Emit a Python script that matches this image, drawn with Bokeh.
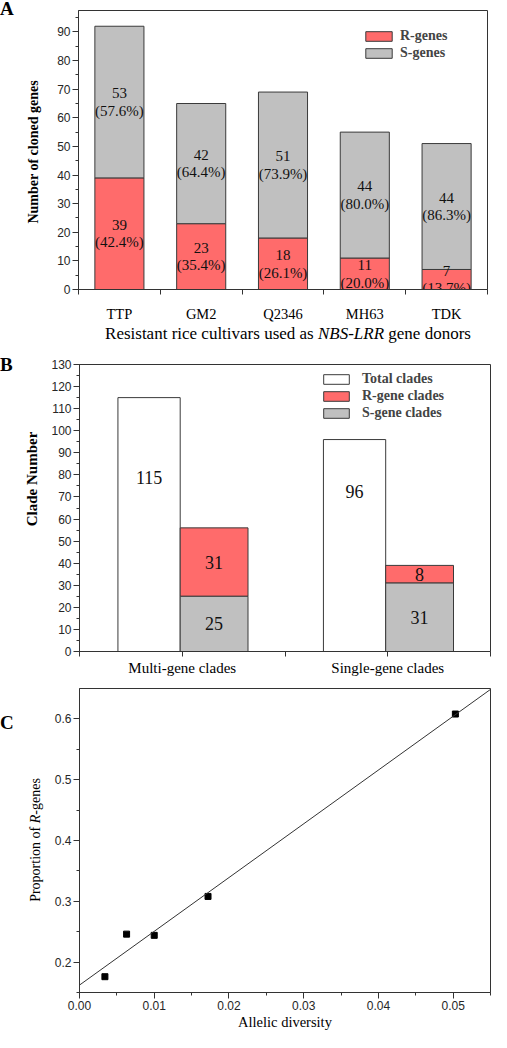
import numpy as np
from bokeh.plotting import figure
from bokeh.models import (Range1d, FixedTicker, SingleIntervalTicker, Legend,
                          LegendItem, ColumnDataSource, PrintfTickFormatter, Div)
from bokeh.layouts import column, row
from bokeh.embed import file_html
from bokeh.resources import INLINE
from bokeh.core.properties import value

# ---------------- data ----------------
cultivars = ["TTP", "GM2", "Q2346", "MH63", "TDK"]
r_genes = [39, 23, 18, 11, 7]
s_genes = [53, 42, 51, 44, 44]
r_pct = ["42.4", "35.4", "26.1", "20.0", "13.7"]
s_pct = ["57.6", "64.4", "73.9", "80.0", "86.3"]

clade_groups = ["Multi-gene clades", "Single-gene clades"]
total_clades = [115, 96]
r_clades = [31, 8]
s_clades = [25, 31]

allelic_diversity = [0.0034, 0.0063, 0.0100, 0.0172, 0.0503]
r_proportion = [0.176, 0.246, 0.244, 0.308, 0.608]

# ---------------- style / layout ----------------
SERIF = "Liberation Serif"
SANS = "Liberation Sans"
RED = "#FF6B6B"
GREY = "#C0C0C0"
EDGE = "#3A3A3A"
AX = "#333333"
LEFT_W = 48          # width of the side strip holding panel letters / y titles
FIG_W = 443
TOTAL_LABEL_Y = [79, 72.5]   # height of the 'total clades' numbers (layout)


def base_fig(h, xr, yr, bl, br, bt, bb):
    p = figure(width=FIG_W, height=h, x_range=Range1d(*xr), y_range=Range1d(*yr),
               output_backend="svg", toolbar_location=None,
               min_border_left=bl, min_border_right=br, min_border_top=bt,
               min_border_bottom=bb)
    p.grid.grid_line_color = None
    p.outline_line_color = AX
    p.outline_line_width = 1
    p.background_fill_color = "white"
    p.border_fill_color = "white"
    for ax in p.axis:
        ax.axis_line_color = AX
        ax.major_tick_line_color = AX
        ax.minor_tick_line_color = AX
        ax.major_tick_in = 0
        ax.minor_tick_in = 0
    return p


def style_yaxis(ax, size="12px"):
    ax.major_tick_out = 6
    ax.minor_tick_out = 3
    ax.major_label_standoff = 2
    ax.major_label_text_font = SANS
    ax.major_label_text_font_size = size
    ax.major_label_text_color = "#262626"


def txt(left, top, html, size, weight="normal", rotate=False):
    tr = "translate(-50%,-50%)" + (" rotate(-90deg)" if rotate else "")
    return (f'<div style="position:absolute;left:{left}px;top:{top}px;transform:{tr};'
            f'white-space:nowrap;font-family:\'{SERIF}\',serif;font-size:{size}px;'
            f'font-weight:{weight};line-height:1;color:#000;">{html}</div>')


def letter(left, top, ch):
    return (f'<div style="position:absolute;left:{left}px;top:{top}px;'
            f'font-family:\'{SERIF}\',serif;font-size:19px;font-weight:bold;'
            f'line-height:0.8;color:#000;">{ch}</div>')


def strip(width, height, parts):
    html = (f'<div style="position:relative;width:{width}px;height:{height}px;'
            f'overflow:visible;">{"".join(parts)}</div>')
    return Div(text=html, width=width, height=height, margin=0,
               styles={"overflow": "visible", "padding": "0"})


# ================= Panel A =================
HA = 324
pA = base_fig(HA, (0, 5), (0, 97.5), 30, 4, 10, 30)

xA = np.arange(len(cultivars)) + 0.5
rg = np.array(r_genes)
sg = np.array(s_genes)
srcA = ColumnDataSource(dict(
    x=xA, r=rg, tot=rg + sg, rmid=rg / 2, smid=rg + sg / 2,
    rlab=[f"{v}\n({p}%)" for v, p in zip(r_genes, r_pct)],
    slab=[f"{v}\n({p}%)" for v, p in zip(s_genes, s_pct)],
))
rA = pA.vbar(x="x", width=0.6, bottom=0, top="r", fill_color=RED, line_color=EDGE,
             line_width=1, source=srcA)
sA = pA.vbar(x="x", width=0.6, bottom="r", top="tot", fill_color=GREY, line_color=EDGE,
             line_width=1, source=srcA)
for col, ycol in (("rlab", "rmid"), ("slab", "smid")):
    pA.text(x="x", y=ycol, text=col, source=srcA, text_font=value(SERIF),
            text_font_size="15px", text_align="center", text_baseline="middle",
            text_line_height=1.1, text_color="#111111")

axA = pA.xaxis[0]
axA.ticker = FixedTicker(ticks=list(xA), minor_ticks=list(range(len(cultivars) + 1)))
axA.major_label_overrides = {float(x): c for x, c in zip(xA, cultivars)}
axA.major_tick_out = 0
axA.minor_tick_out = 5
axA.major_label_standoff = 11
axA.major_label_text_font = SERIF
axA.major_label_text_font_size = "14.5px"
axA.major_label_text_color = "black"
ayA = pA.yaxis[0]
ayA.ticker = SingleIntervalTicker(interval=10, num_minor_ticks=2)
style_yaxis(ayA)

legA = Legend(items=[LegendItem(label="R-genes", renderers=[rA]),
                     LegendItem(label="S-genes", renderers=[sA])],
              location=(284, 228), padding=0, spacing=0, margin=0,
              glyph_width=33, glyph_height=12, label_height=17, label_standoff=5,
              border_line_color=None, background_fill_alpha=0,
              label_text_font=SERIF, label_text_font_style="bold",
              label_text_font_size="14px")
pA.add_layout(legA)

leftA = strip(LEFT_W, HA, [
    letter(0, 1, "A"),
    txt(34, 152, "Number of cloned genes", 14, "bold", rotate=True),
])
titleA = strip(LEFT_W + FIG_W, 20, [
    txt(288, 9, "Resistant rice cultivars used as <i>NBS-LRR</i> gene donors", 17),
])

# ================= Panel B =================
HB = 338
pB = base_fig(HB, (0, 2), (0, 130), 30, 1, 20, 31)

cB = np.arange(len(clade_groups)) + 0.5
rc = np.array(r_clades)
sc = np.array(s_clades)
srcB = ColumnDataSource(dict(
    xt=cB - 0.1615, xs=cB + 0.155, tot=total_clades, s=sc, rs=sc + rc,
    smid=sc / 2, rmid=sc + rc / 2, tlab_y=TOTAL_LABEL_Y,
    tlab=[str(v) for v in total_clades], slab=[str(v) for v in s_clades],
    rlab=[str(v) for v in r_clades],
))
tB = pB.vbar(x="xt", width=0.303, bottom=0, top="tot", fill_color="white",
             line_color=EDGE, source=srcB)
rB = pB.vbar(x="xs", width=0.33, bottom="s", top="rs", fill_color=RED,
             line_color=EDGE, source=srcB)
sB = pB.vbar(x="xs", width=0.33, bottom=0, top="s", fill_color=GREY,
             line_color=EDGE, source=srcB)
for xc, yc, tc in (("xt", "tlab_y", "tlab"), ("xs", "rmid", "rlab"), ("xs", "smid", "slab")):
    pB.text(x=xc, y=yc, text=tc, source=srcB, text_font=value(SERIF),
            text_font_size="18px", text_align="center", text_baseline="middle",
            text_color="#111111")

axB = pB.xaxis[0]
axB.ticker = FixedTicker(ticks=list(cB), minor_ticks=list(range(len(clade_groups) + 1)))
axB.major_label_overrides = {float(x): c for x, c in zip(cB, clade_groups)}
axB.major_tick_out = 5
axB.minor_tick_out = 5
axB.major_label_standoff = 3
axB.major_label_text_font = SERIF
axB.major_label_text_font_size = "15px"
axB.major_label_text_color = "black"
ayB = pB.yaxis[0]
ayB.ticker = SingleIntervalTicker(interval=10, num_minor_ticks=2)
style_yaxis(ayB)

legB = Legend(items=[LegendItem(label="Total clades", renderers=[tB]),
                     LegendItem(label="R-gene clades", renderers=[rB]),
                     LegendItem(label="S-gene clades", renderers=[sB])],
              location=(241, 230), padding=0, spacing=0, margin=0,
              glyph_width=32, glyph_height=12, label_height=17, label_standoff=10,
              border_line_color=None, background_fill_alpha=0,
              label_text_font=SERIF, label_text_font_style="bold",
              label_text_font_size="14px")
pB.add_layout(legB)

leftB = strip(LEFT_W, HB, [
    letter(0, 13, "B"),
    txt(32, 135, "Clade Number", 15, "bold", rotate=True),
])

# ================= Panel C =================
HC = 350
pC = base_fig(HC, (0, 0.055), (0.15, 0.65), 31, 1, 6, 40)

pC.scatter(allelic_diversity, r_proportion, marker="square", size=6,
           fill_color="black", line_color="black")
slope, icpt = np.polyfit(allelic_diversity, r_proportion, 1)
xfit = np.array([pC.x_range.start, pC.x_range.end], dtype=float)
pC.line(xfit, icpt + slope * xfit, line_color="#333333", line_width=1)

axC = pC.xaxis[0]
axC.ticker = SingleIntervalTicker(interval=0.01, num_minor_ticks=2)
axC.formatter = PrintfTickFormatter(format="%.2f")
axC.major_tick_out = 6
axC.minor_tick_out = 3
axC.major_label_standoff = 2
axC.major_label_text_font = SANS
axC.major_label_text_font_size = "12px"
axC.major_label_text_color = "#262626"
axC.axis_label = "Allelic diversity"
axC.axis_label_standoff = 1
axC.axis_label_text_font = SERIF
axC.axis_label_text_font_style = "normal"
axC.axis_label_text_font_size = "14.5px"
axC.axis_label_text_color = "black"
ayC = pC.yaxis[0]
ayC.ticker = SingleIntervalTicker(interval=0.1, num_minor_ticks=2)
ayC.formatter = PrintfTickFormatter(format="%.1f")
style_yaxis(ayC)

leftC = strip(LEFT_W, HC, [
    letter(0, 33, "C"),
    txt(36, 158, "Proportion of <i>R</i>-genes", 14, rotate=True),
])

layout = column(row(leftA, pA, spacing=0), titleA,
                row(leftB, pB, spacing=0), row(leftC, pC, spacing=0), spacing=0)
open("out.html", "w").write(file_html(layout, INLINE))
